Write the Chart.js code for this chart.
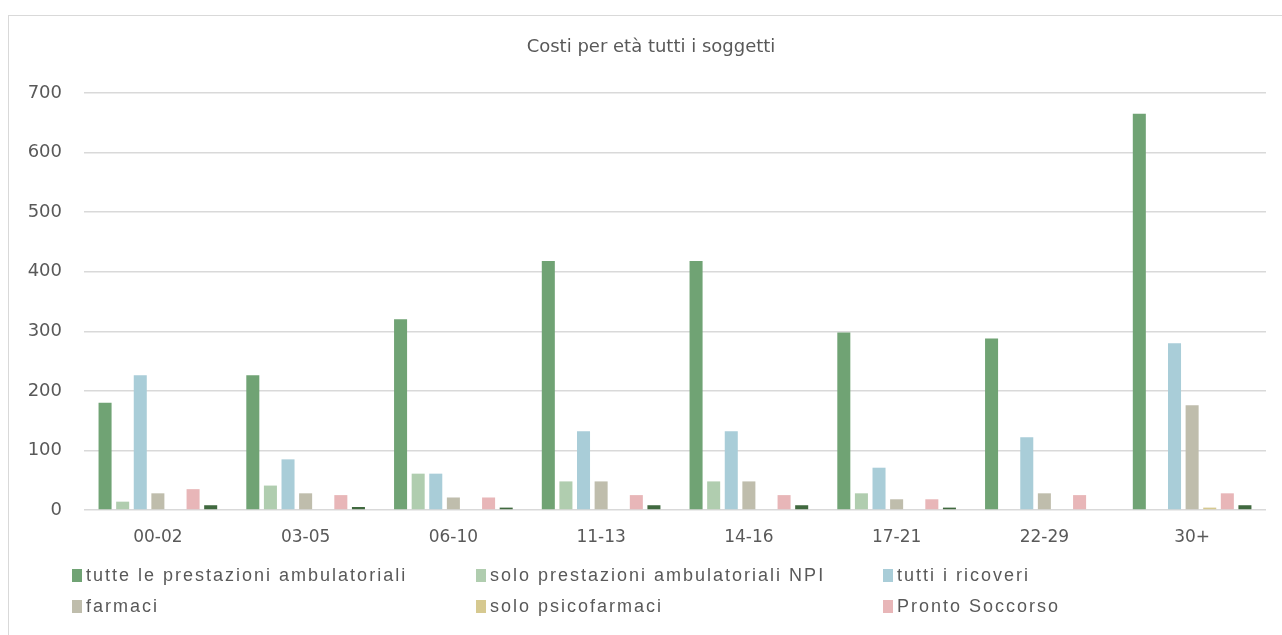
<!DOCTYPE html>
<html lang="it">
<head>
<meta charset="utf-8">
<title>Costi per età tutti i soggetti</title>
<script src="https://cdn.jsdelivr.net/npm/chart.js@4.4.1/dist/chart.umd.min.js"></script>
<style>
	html, body { margin: 0; padding: 0; background: #fff; }
	#wrap { position: relative; width: 1282px; height: 635px; overflow: hidden; }
	#frame {
		position: absolute; left: 8px; top: 15px; width: 1300px; height: 700px;
		border-left: 1px solid #d9d9d9; border-top: 1px solid #d9d9d9;
	}
	#chart { position: absolute; left: 0; top: 0; }
	#legend {
		position: absolute; left: 72px; top: 560px;
		display: grid; grid-template-columns: 404px 407px auto;
		font-family: 'Liberation Sans', Arial, sans-serif; font-size: 18px;
		letter-spacing: 2px; color: #595959;
	}
	#legend .item { display: flex; align-items: center; height: 31px; white-space: nowrap; }
	#legend .box { width: 10px; height: 13px; margin-right: 4px; flex: none; }
</style>
</head>
<body>
<div id="wrap">
	<div id="frame"></div>
	<canvas id="chart" width="1282" height="635"></canvas>
	<div id="legend"></div>
</div>
<script>
	/************  DATA  ************/
	const chartTitle = 'Costi per età tutti i soggetti';
	const ageGroups = ['00-02', '03-05', '06-10', '11-13', '14-16', '17-21', '22-29', '30+'];

	const ambulatoriali = [180, 226, 320, 418, 418, 298, 288, 665];
	const ambulatorialiNPI = [14, 41, 61, 48, 48, 28, 0, 0];
	const ricoveri = [226, 85, 61, 132, 132, 71, 122, 280];
	const farmaci = [28, 28, 21, 48, 48, 18, 28, 176];
	const psicofarmaci = [0, 0, 0, 0, 0, 0, 0, 4];
	const prontoSoccorso = [35, 25, 21, 25, 25, 18, 25, 28];
	// 7th series: its legend entry is cut off in the original
	const serie7 = [8, 5, 4, 8, 8, 4, 0, 8];

	const yTicks = [0, 100, 200, 300, 400, 500, 600, 700];

	const textColor = '#595959';
	const gridColor = '#d9d9d9';

	const series = [
		{ label: 'tutte le prestazioni ambulatoriali', data: ambulatoriali, color: '#70a374' },
		{ label: 'solo prestazioni ambulatoriali NPI', data: ambulatorialiNPI, color: '#b0cdaf' },
		{ label: 'tutti i ricoveri', data: ricoveri, color: '#a9cdd8' },
		{ label: 'farmaci', data: farmaci, color: '#bfbdac' },
		{ label: 'solo psicofarmaci', data: psicofarmaci, color: '#d6c990' },
		{ label: 'Pronto Soccorso', data: prontoSoccorso, color: '#e8b6b8' },
		{ label: 'serie 7', data: serie7, color: '#40693f', noLegend: true },
	];

	/************  TITLE PLUGIN  ************/
	// centred on the outer frame (which runs past the right edge), not on the canvas
	const frameTitle = {
		id: 'frameTitle',
		afterDraw(chart) {
			const c = chart.ctx;
			c.save();
			c.font = '18px "DejaVu Sans"';
			c.fillStyle = textColor;
			c.textAlign = 'center';
			c.textBaseline = 'middle';
			c.fillText(chartTitle, 651, 47);
			c.restore();
		},
	};

	/************  CHART  ************/
	const ctx = document.getElementById('chart').getContext('2d');
	const chart = new Chart(ctx, {
		type: 'bar',
		data: {
			labels: ageGroups,
			datasets: series.map(s => ({
				label: s.label,
				data: s.data,
				backgroundColor: s.color,
				borderWidth: 0,
				categoryPercentage: 0.834,
				barPercentage: 0.74,
				noLegend: !!s.noLegend,
			})),
		},
		options: {
			responsive: false,
			animation: false,
			layout: { padding: { left: 10, right: 16, top: 93, bottom: 10 } },
			plugins: {
				legend: { display: false },
				tooltip: { enabled: false },
				title: { display: false },
			},
			scales: {
				x: {
					grid: { display: false },
					border: { display: false },
					ticks: {
						color: textColor,
						font: { family: 'DejaVu Sans', size: 17 },
						padding: 9,
						maxRotation: 0,
					},
					afterFit: scale => { scale.height = 115; },
				},
				y: {
					min: 0,
					max: 700,
					afterBuildTicks: scale => { scale.ticks = yTicks.map(v => ({ value: v })); },
					grid: { color: gridColor, lineWidth: 1.5, drawTicks: false },
					border: { display: false },
					ticks: {
						color: textColor,
						font: { family: 'DejaVu Sans', size: 18 },
						padding: 22,
					},
					afterFit: scale => { scale.width = 74; },
				},
			},
		},
		plugins: [frameTitle],
	});

	/************  LEGEND  ************/
	const legendContainer = document.querySelector('#legend');
	chart.data.datasets.forEach(ds => {
		if (ds.noLegend) return;
		const item = document.createElement('div');
		item.className = 'item';
		item.innerHTML = `<span class="box" style="background:${ds.backgroundColor}"></span><span>${ds.label}</span>`;
		legendContainer.appendChild(item);
	});
</script>
</body>
</html>
